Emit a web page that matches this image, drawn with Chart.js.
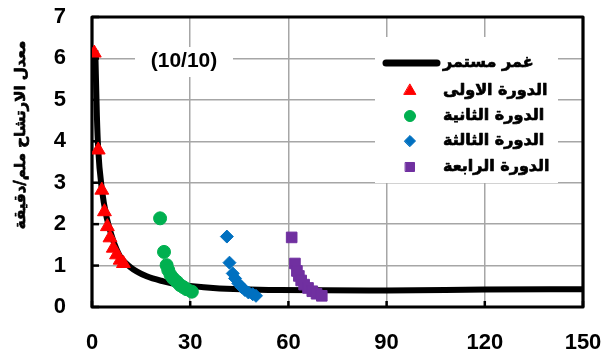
<!DOCTYPE html>
<html>
<head>
<meta charset="utf-8">
<script src="https://cdn.jsdelivr.net/npm/chart.js@4.4.1/dist/chart.umd.min.js"></script>
<style>
  html, body { margin: 0; padding: 0; background: #ffffff; }
  #wrap { width: 606px; height: 358px; }
</style>
</head>
<body>
<div id="wrap"><canvas id="chart" width="606" height="358"></canvas></div>
<script>
// Infiltration rate (mm/min) against time (min)
const curveTime = [1, 1.5, 1.9, 3, 4.5, 6.5, 8.6, 11.6, 16.7, 21.8, 26.9, 37, 57, 90, 120, 150];
const curveRate = [6.2, 4.6, 3.8, 2.85, 2.15, 1.6, 1.22, 0.97, 0.74, 0.62, 0.54, 0.46, 0.41, 0.40, 0.42, 0.43];

const cycle1Time = [0.7, 1.9, 3.0, 3.8, 4.7, 5.5, 6.5, 7.5, 8.6, 9.6];
const cycle1Rate = [6.13, 3.79, 2.82, 2.30, 1.94, 1.67, 1.42, 1.26, 1.13, 1.05];

const cycle2Time = [20.8, 22.0, 22.8, 23.3, 24.0, 24.8, 25.9, 26.9, 27.9, 28.9, 30.5];
const cycle2Rate = [2.14, 1.33, 1.01, 0.89, 0.77, 0.69, 0.61, 0.53, 0.48, 0.43, 0.37];

const cycle3Time = [41.2, 42.0, 43.0, 43.7, 44.7, 45.7, 46.7, 47.8, 49.1, 50.1];
const cycle3Rate = [1.70, 1.07, 0.81, 0.69, 0.57, 0.48, 0.41, 0.35, 0.31, 0.27];

const cycle4Time = [61.0, 62.0, 62.6, 63.2, 63.9, 64.8, 66.0, 67.3, 68.6, 70.2];
const cycle4Rate = [1.68, 1.05, 0.87, 0.75, 0.64, 0.54, 0.46, 0.38, 0.32, 0.27];

const seriesNames = ['غمر مستمر', 'الدورة الاولى', 'الدورة الثانية', 'الدورة الثالثة', 'الدورة الرابعة'];
const xTickValues = [0, 30, 60, 90, 120, 150];
const yTickValues = [0, 1, 2, 3, 4, 5, 6, 7];
const yAxisTitle = 'معدل الارتشاح ملم/دقيقة';
const panelLabel = '(10/10)';

const FONT = "Arial, 'Liberation Sans', 'DejaVu Sans', sans-serif";
const AR_FONT = "'DejaVu Sans', sans-serif";

const toPoints = (xs, ys) => xs.map((x, i) => ({ x: x, y: ys[i] }));

// keep the plot area fixed: no extra room for overhanging tick labels
const noOverhang = s => { s.paddingLeft = 0; s.paddingRight = 0; s.paddingTop = 0; s.paddingBottom = 0; };

// heavier Arabic text: fill plus a thin outline in the same colour
function heavyText(ctx, text, x, y) {
  ctx.lineWidth = 0.7;
  ctx.strokeStyle = ctx.fillStyle;
  ctx.lineJoin = 'round';
  ctx.strokeText(text, x, y);
  ctx.fillText(text, x, y);
}

// Plot frame with inward tick marks
const framePlugin = {
  id: 'frame',
  beforeDatasetsDraw(chart) {
    const { ctx, chartArea: a, scales } = chart;
    ctx.save();
    ctx.strokeStyle = '#000000';
    ctx.lineWidth = 2.5;
    ctx.lineCap = 'butt';
    yTickValues.forEach(v => {
      const y = scales.y.getPixelForValue(v);
      ctx.beginPath(); ctx.moveTo(a.left, y); ctx.lineTo(a.left + 7, y); ctx.stroke();
    });
    xTickValues.forEach(v => {
      const x = scales.x.getPixelForValue(v);
      ctx.beginPath(); ctx.moveTo(x, a.bottom); ctx.lineTo(x, a.bottom - 6); ctx.stroke();
    });
    ctx.lineWidth = 3.2;
    ctx.lineJoin = 'round';
    ctx.beginPath();
    ctx.rect(a.left, a.top, a.right - a.left, a.bottom - a.top);
    ctx.stroke();
    ctx.restore();
  }
};

// Panel label and legend boxes inside the plot
const overlayPlugin = {
  id: 'overlay',
  afterDatasetsDraw(chart) {
    const { ctx } = chart;
    ctx.save();
    // panel label
    ctx.fillStyle = '#ffffff';
    ctx.fillRect(135, 47, 98, 30);
    ctx.fillStyle = '#000000';
    ctx.font = 'bold 21px ' + FONT;
    ctx.textAlign = 'center';
    ctx.textBaseline = 'middle';
    ctx.fillText(panelLabel, 184, 61);

    // legend
    ctx.fillStyle = '#ffffff';
    ctx.fillRect(375, 37, 183, 146);
    const rows = [63, 91, 116, 141, 167];
    chart.data.datasets.forEach((ds, i) => {
      const y = rows[i];
      if (ds.showLine) {
        ctx.strokeStyle = ds.borderColor;
        ctx.lineWidth = 7;
        ctx.lineCap = 'round';
        ctx.beginPath(); ctx.moveTo(386, y); ctx.lineTo(437, y); ctx.stroke();
      } else {
        ctx.fillStyle = ds.backgroundColor;
        ctx.strokeStyle = ds.borderColor;
        ctx.lineWidth = 1;
        Chart.helpers.drawPoint(ctx, { pointStyle: ds.pointStyle, radius: ds.pointRadius * 0.85, borderWidth: 1, rotation: 0 }, 410, y);
      }
      ctx.fillStyle = '#000000';
      ctx.font = 'bold 16px ' + AR_FONT;
      ctx.textAlign = 'left';
      ctx.textBaseline = 'middle';
      heavyText(ctx, ds.label, 443, y);
    });
    ctx.restore();
  }
};

// Rotated y-axis title
const yTitlePlugin = {
  id: 'yTitle',
  afterDraw(chart) {
    const ctx = chart.ctx;
    ctx.save();
    ctx.translate(21, 135);
    ctx.rotate(-Math.PI / 2);
    ctx.fillStyle = '#000000';
    ctx.font = 'bold 15px ' + AR_FONT;
    ctx.textAlign = 'center';
    ctx.textBaseline = 'middle';
    heavyText(ctx, yAxisTitle, 0, 0);
    ctx.restore();
  }
};

new Chart(document.getElementById('chart'), {
  type: 'scatter',
  data: {
    datasets: [
      {
        label: seriesNames[0],
        data: toPoints(curveTime, curveRate),
        showLine: true,
        borderColor: '#000000',
        backgroundColor: '#000000',
        borderWidth: 6,
        pointRadius: 0,
        cubicInterpolationMode: 'monotone',
        order: 5
      },
      {
        label: seriesNames[1],
        data: toPoints(cycle1Time, cycle1Rate),
        pointStyle: 'triangle',
        pointRadius: 8,
        backgroundColor: '#ff0000',
        borderColor: '#ff0000',
        borderWidth: 1,
        order: 1
      },
      {
        label: seriesNames[2],
        data: toPoints(cycle2Time, cycle2Rate),
        pointStyle: 'circle',
        pointRadius: 6.5,
        backgroundColor: '#00b050',
        borderColor: '#00b050',
        borderWidth: 1,
        order: 1
      },
      {
        label: seriesNames[3],
        data: toPoints(cycle3Time, cycle3Rate),
        pointStyle: 'rectRot',
        pointRadius: 6.5,
        backgroundColor: '#0070c0',
        borderColor: '#0070c0',
        borderWidth: 1,
        order: 1
      },
      {
        label: seriesNames[4],
        data: toPoints(cycle4Time, cycle4Rate),
        pointStyle: 'rect',
        pointRadius: 7.5,
        backgroundColor: '#7030a0',
        borderColor: '#7030a0',
        borderWidth: 1,
        order: 1
      }
    ]
  },
  options: {
    responsive: false,
    animation: false,
    devicePixelRatio: 1,
    layout: { padding: { top: 17, right: 23, left: 0, bottom: 0 } },
    plugins: { legend: { display: false }, tooltip: { enabled: false } },
    scales: {
      x: {
        type: 'linear',
        min: 0,
        max: 150,
        afterBuildTicks: s => { s.ticks = xTickValues.map(v => ({ value: v })); },
        afterFit: s => { s.height = 51; noOverhang(s); },
        ticks: { color: '#000000', font: { family: FONT, size: 22, weight: 'bold' }, padding: 23, maxRotation: 0 },
        grid: { color: '#a6a6a6', lineWidth: 1.5, drawTicks: false },
        border: { display: false }
      },
      y: {
        type: 'linear',
        min: 0,
        max: 7,
        afterBuildTicks: s => { s.ticks = yTickValues.map(v => ({ value: v })); },
        afterFit: s => { s.width = 92; noOverhang(s); },
        ticks: { color: '#000000', font: { family: FONT, size: 22, weight: 'bold' }, padding: 26 },
        grid: { color: '#a6a6a6', lineWidth: 1.5, drawTicks: false },
        border: { display: false }
      }
    }
  },
  plugins: [framePlugin, overlayPlugin, yTitlePlugin]
});
</script>
</body>
</html>
